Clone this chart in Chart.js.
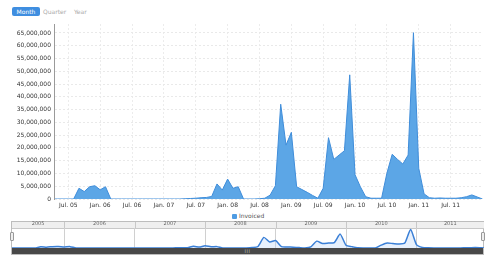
<!DOCTYPE html>
<html>
<head>
<meta charset="utf-8">
<script src="https://cdn.jsdelivr.net/npm/chart.js@4.4.0/dist/chart.umd.min.js"></script>
<style>
    body { margin: 0; width: 490px; height: 263px; background: #fff; position: relative; overflow: hidden;
           font-family: 'DejaVu Sans', Verdana, sans-serif; }
    canvas { position: absolute; left: 0; }
    .btn { position: absolute; top: 7px; height: 9px; line-height: 9px; font-size: 6px; color: #aaa; }
    .btn.on { left: 12px; width: 28px; text-align: center; background: #3f8ee0; color: #fff; border-radius: 2px; }
    #legend { position: absolute; left: 232px; top: 212px; font-size: 6px; color: #555; line-height: 8px; }
    #legend span { display: inline-block; width: 5px; height: 5px; background: #4f9ce3; border-radius: 1px; margin-right: 2px; vertical-align: -0.5px; }
    #frame { position: absolute; left: 11px; top: 221px; width: 473px; height: 34px; border: 1px solid #bdbdbd; box-sizing: border-box; }
    #scroll { position: absolute; left: 12px; top: 248px; width: 471px; height: 6px; background: #484848;
              color: #bbb; font-size: 5px; line-height: 6px; text-align: center; letter-spacing: 0.5px; }
    .grip { position: absolute; top: 232px; width: 4px; height: 9px; background: #eee; border: 1px solid #999; border-radius: 1px; box-sizing: border-box; }
</style>
</head>
<body>
<div class="btn on">Month</div>
<div class="btn" style="left:43px">Quarter</div>
<div class="btn" style="left:74px">Year</div>

<canvas id="chartInvoiced" width="490" height="210" style="top:0"></canvas>
<div id="legend"><span></span>Invoiced</div>

<div id="frame"></div>
<canvas id="chartNavigator" width="490" height="27" style="top:221px"></canvas>
<div id="scroll">III</div>
<div class="grip" style="left:10px"></div>
<div class="grip" style="left:481px"></div>

<script>
// Dados mensais (faturado)
const meses = [
    '2005-04', '2005-05', '2005-06', '2005-07', '2005-08', '2005-09', '2005-10', '2005-11', '2005-12',
    '2006-01', '2006-02', '2006-03', '2006-04', '2006-05', '2006-06', '2006-07', '2006-08', '2006-09', '2006-10', '2006-11', '2006-12',
    '2007-01', '2007-02', '2007-03', '2007-04', '2007-05', '2007-06', '2007-07', '2007-08', '2007-09', '2007-10', '2007-11', '2007-12',
    '2008-01', '2008-02', '2008-03', '2008-04', '2008-05', '2008-06', '2008-07', '2008-08', '2008-09', '2008-10', '2008-11', '2008-12',
    '2009-01', '2009-02', '2009-03', '2009-04', '2009-05', '2009-06', '2009-07', '2009-08', '2009-09', '2009-10', '2009-11', '2009-12',
    '2010-01', '2010-02', '2010-03', '2010-04', '2010-05', '2010-06', '2010-07', '2010-08', '2010-09', '2010-10', '2010-11', '2010-12',
    '2011-01', '2011-02', '2011-03', '2011-04', '2011-05', '2011-06', '2011-07', '2011-08', '2011-09', '2011-10', '2011-11', '2011-12',
    '2012-01'
];

const faturado = [
    0, 0, 0, 0, 0, 4200000, 2900000, 4800000, 5200000,
    3600000, 4800000, 0, 0, 0, 0, 0, 0, 0, 0, 0, 0,
    0, 0, 0, 0, 100000, 200000, 300000, 500000, 600000, 1000000, 5900000, 3500000,
    7800000, 4200000, 4800000, 0, 0, 0, 100000, 300000, 1500000, 5200000, 37100000, 21100000,
    26100000, 4800000, 3700000, 2600000, 1400000, 300000, 4200000, 24000000, 15500000, 17200000, 18900000, 48600000,
    9500000, 4800000, 900000, 300000, 300000, 300000, 10100000, 17500000, 15500000, 13700000, 17200000, 65100000,
    12000000, 2000000, 500000, 300000, 400000, 300000, 300000, 300000, 500000, 900000, 1600000, 800000,
    0
];

const rotulosX = ['Jul. 05', 'Jan. 06', 'Jul. 06', 'Jan. 07', 'Jul. 07', 'Jan. 08', 'Jul. 08',
                  'Jan. 09', 'Jul. 09', 'Jan. 10', 'Jul. 10', 'Jan. 11', 'Jul. 11'];
const valoresY = [0, 5000000, 10000000, 15000000, 20000000, 25000000, 30000000,
                  35000000, 40000000, 45000000, 50000000, 55000000, 60000000, 65000000];
const anos = ['2005', '2006', '2007', '2008', '2009', '2010', '2011'];

const corArea = '#5ca6e6';
const corLinha = '#3f8dda';
const fonte = 'DejaVu Sans';

const mesesAbrev = { Jan: 0, Jul: 6 };

// meses contados a partir de jan/2005
function indiceMes(str) {
    const [a, m] = str.split('-').map(Number);
    return (a - 2005) * 12 + (m - 1);
}

function indiceRotulo(rot) {
    const [m, a] = rot.split('. ');
    return (Number(a) + 2000 - 2005) * 12 + mesesAbrev[m];
}

function formatarNumero(v) {
    return v.toLocaleString('en-US');
}

const pontos = meses.map((m, i) => ({ x: indiceMes(m), y: faturado[i] }));
const posRotulos = rotulosX.map(indiceRotulo);

function criarGraficoPrincipal() {
    const canvas = document.getElementById('chartInvoiced');
    new Chart(canvas, {
        type: 'line',
        data: {
            datasets: [{
                label: 'Invoiced',
                data: pontos,
                borderColor: corLinha,
                backgroundColor: corArea,
                borderWidth: 1,
                fill: 'origin',
                tension: 0,
                pointRadius: 0
            }]
        },
        options: {
            responsive: false,
            animation: false,
            devicePixelRatio: 1,
            layout: { padding: { left: 0, right: 7, top: 24, bottom: 0 } },
            plugins: { legend: { display: false }, tooltip: { enabled: false } },
            scales: {
                x: {
                    type: 'linear',
                    min: 3.3,
                    max: 84.1,
                    afterBuildTicks: s => { s.ticks = posRotulos.map(v => ({ value: v })); },
                    afterFit: s => { s.height = 11; },
                    ticks: {
                        autoSkip: false,
                        maxRotation: 0,
                        padding: 3,
                        font: { family: fonte, size: 6 },
                        color: '#333',
                        callback: v => rotulosX[posRotulos.indexOf(v)]
                    },
                    grid: { color: '#ececec', drawTicks: false },
                    border: { display: false, dash: [2, 2] }
                },
                y: {
                    min: 0,
                    max: 68500000,
                    afterBuildTicks: s => { s.ticks = valoresY.map(v => ({ value: v })); },
                    afterFit: s => { s.width = 54; },
                    ticks: {
                        autoSkip: false,
                        padding: 3,
                        font: { family: fonte, size: 6 },
                        color: '#333',
                        callback: v => formatarNumero(v)
                    },
                    grid: { color: '#e9e9e9', drawTicks: false },
                    border: { display: true, color: '#9a9a9a', dash: [2, 2] }
                }
            }
        },
        plugins: [{
            id: 'eixoEsquerdo',
            afterDatasetsDraw(chart) {
                const { ctx, chartArea } = chart;
                ctx.save();
                ctx.strokeStyle = '#9a9a9a';
                ctx.lineWidth = 1;
                ctx.beginPath();
                ctx.moveTo(chartArea.left + 0.5, chartArea.top);
                ctx.lineTo(chartArea.left + 0.5, chartArea.bottom);
                ctx.stroke();
                ctx.restore();
            }
        }]
    });
}

// cabecalho do navegador com os anos
const pluginCabecalho = {
    id: 'cabecalho',
    beforeDraw(chart) {
        const { ctx, chartArea } = chart;
        const sx = chart.scales.x;
        ctx.save();
        ctx.fillStyle = '#efefef';
        ctx.fillRect(chartArea.left, 1, chartArea.right - chartArea.left, chartArea.top - 1);
        ctx.strokeStyle = '#c8c8c8';
        ctx.lineWidth = 1;
        ctx.beginPath();
        ctx.moveTo(chartArea.left, chartArea.top + 0.5);
        ctx.lineTo(chartArea.right, chartArea.top + 0.5);
        anos.slice(1).forEach(a => {
            const px = Math.round(sx.getPixelForValue(indiceMes(a + '-01'))) + 0.5;
            ctx.moveTo(px, 1);
            ctx.lineTo(px, chartArea.top);
        });
        ctx.stroke();
        ctx.restore();
    }
};

function criarNavegador() {
    const canvas = document.getElementById('chartNavigator');
    const min = 3.1, max = 83.5;
    const limites = anos.slice(1).map(a => indiceMes(a + '-01'));
    const centros = anos.map(a => {
        const ini = Math.max(indiceMes(a + '-01'), min);
        const fim = Math.min(indiceMes(a + '-01') + 12, max);
        return (ini + fim) / 2;
    });
    new Chart(canvas, {
        type: 'line',
        data: {
            datasets: [{
                data: pontos,
                borderColor: '#3a7fd6',
                backgroundColor: 'rgba(185, 212, 245, 0.35)',
                borderWidth: 1.5,
                fill: 'origin',
                tension: 0.2,
                pointRadius: 0
            }]
        },
        options: {
            responsive: false,
            animation: false,
            devicePixelRatio: 1,
            layout: { padding: { left: 12, right: 6, top: 0, bottom: 0 } },
            plugins: { legend: { display: false }, tooltip: { enabled: false } },
            scales: {
                x: {
                    type: 'linear',
                    min: min,
                    max: max,
                    afterBuildTicks: s => { s.ticks = limites.map(v => ({ value: v })); },
                    afterFit: s => { s.height = 0; },
                    ticks: { display: false },
                    grid: { color: '#d0d0d0', drawTicks: false },
                    border: { display: false }
                },
                x2: {
                    type: 'linear',
                    position: 'top',
                    min: min,
                    max: max,
                    afterBuildTicks: s => { s.ticks = centros.map(v => ({ value: v })); },
                    afterFit: s => { s.height = 7; },
                    ticks: {
                        autoSkip: false,
                        maxRotation: 0,
                        padding: 1,
                        font: { family: fonte, size: 5 },
                        color: '#666',
                        callback: v => anos[centros.indexOf(v)]
                    },
                    grid: { display: false, drawTicks: false },
                    border: { display: false }
                },
                y: {
                    display: false,
                    min: 0,
                    max: 70000000
                }
            }
        },
        plugins: [pluginCabecalho]
    });
}

try {
    criarGraficoPrincipal();
    criarNavegador();
} catch (error) {
    console.error('Erro ao criar graficos:', error);
}
</script>
</body>
</html>
